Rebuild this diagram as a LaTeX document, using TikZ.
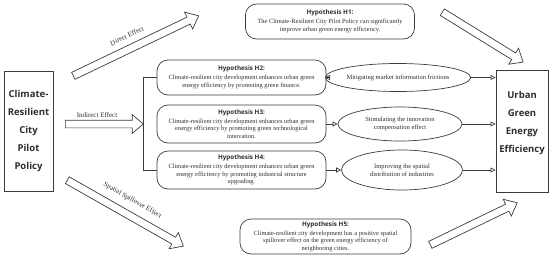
\documentclass[tikz,border=0pt]{standalone}
\usepackage{fontspec}
\setmainfont{Liberation Serif}
\newfontfamily\hfont{Open Sans}
\usetikzlibrary{shapes.geometric,shapes.arrows,arrows.meta}
\definecolor{ln}{RGB}{60,60,60}
\definecolor{tx}{RGB}{45,45,45}
\tikzset{
  hyp/.style={draw=ln, line width=0.7pt, rounded corners=11pt, align=center, inner sep=0pt,
    minimum width=169pt, text=tx, font=\fontsize{6.4}{7.6}\selectfont},
  ell/.style={draw=ln, ellipse, line width=0.7pt, inner sep=0pt, align=center, text=tx,
    font=\fontsize{6.5}{7.6}\selectfont},
  mainbox/.style={draw=ln, line width=0.9pt, inner sep=0pt, align=center, text=tx,
    font=\hfont\bfseries\fontsize{9.5}{18}\selectfont},
  blockarr/.style={single arrow, draw=ln, line width=0.7pt, inner xsep=0pt, inner ysep=3.5pt,
    single arrow head extend=5.5pt, single arrow tip angle=80, anchor=tail},
  conn/.style={draw=ln, line width=0.7pt},
  tipconn/.style={conn, -{Triangle[open,length=5pt,width=5pt]}},
  lbl/.style={text=tx, font=\fontsize{7}{8}\selectfont, inner sep=0pt}
}
\newcommand{\hyptitle}[1]{{\hfont\bfseries\fontsize{6.3}{7}\selectfont #1}}
\begin{document}
\begin{tikzpicture}[x=1pt,y=-1pt]
\useasboundingbox (0,0) rectangle (550,258);

% main boxes
\node[mainbox, minimum width=49pt, minimum height=120pt] (src) at (28.5,131)
  {Climate-\\Resilient\\City\\Pilot\\Policy};
\node[draw=ln, line width=0.9pt, inner sep=0pt, minimum width=52pt, minimum height=122pt] (tgt) at (522,131) {};
\node[mainbox, draw=none] (tgttext) at (522,123) {Urban\\Green\\Energy\\Efficiency};

% hypotheses
\node[hyp, minimum height=35pt] (h1) at (330,21.5)
  {\hyptitle{Hypothesis H1:}\\[1.4pt]
   The Climate-Resilient City Pilot Policy can significantly\\
   improve urban green energy efficiency.};
\node[hyp, minimum height=35pt] (h2) at (241.5,77.5)
  {\hyptitle{Hypothesis H2:}\\[1.4pt]
   Climate-resilient city development enhances urban green\\
   energy efficiency by promoting green finance.};
\node[hyp, minimum height=38pt] (h3) at (241.5,124)
  {\hyptitle{Hypothesis H3:}\\[1.4pt]
   Climate-resilient city development enhances urban green\\
   energy efficiency by promoting green technological\\
   innovation.};
\node[hyp, minimum height=38pt] (h4) at (241.5,170)
  {\hyptitle{Hypothesis H4:}\\[1.4pt]
   Climate-resilient city development enhances urban green\\
   energy efficiency by promoting industrial structure\\
   upgrading.};
\node[hyp, minimum width=171pt, minimum height=35pt] (h5) at (325.5,236.5)
  {\hyptitle{Hypothesis H5:}\\[1.4pt]
   Climate-resilient city development has a positive spatial\\
   spillover effect on the green energy efficiency of\\
   neighboring cities.};

% mechanisms
\node[ell, minimum width=122pt, minimum height=28pt] (e1) at (398,77.5)
  {Mitigating market information frictions};
\node[ell, minimum width=124pt, minimum height=34pt] (e2) at (400,124)
  {Stimulating the innovation\\compensation effect};
\node[ell, minimum width=121pt, minimum height=40pt] (e3) at (402,170)
  {Improving the spatial\\distribution of industries};

% connectors
\draw[tipconn] (h2.east) -- (e1.west);
\draw[tipconn] (h3.east) -- (e2.west);
\draw[tipconn] (h4.east) -- (e3.west);
\draw[tipconn] (e1.east) -- (e1.east -| tgt.west);
\draw[tipconn] (e2.east) -- (e2.east -| tgt.west);
\draw[tipconn] (e3.east) -- (e3.east -| tgt.west);

\coordinate (br) at (143,124);
\draw[conn] (h2.west) -- (h2.west -| br) -- (h4.west -| br) -- (h4.west);

% block arrows
\node[blockarr, minimum height=78pt] (ind) at (65,124) {};
\node[blockarr, rotate=25.6, minimum height=139pt] (dir) at (73,76) {};
\node[blockarr, rotate=-29.6, minimum height=133.5pt] (spa) at (67,180) {};
\node[blockarr, rotate=-31.7, minimum height=95pt] (ur) at (442,12) {};
\node[blockarr, rotate=25.8, minimum height=96.6pt] (lr) at (430,245) {};

% labels
\node[lbl, rotate=25.6] (ldir) at (127,36) {Direct Effect};
\node[lbl] (lind) at (97,115) {Indirect Effect};
\node[lbl, rotate=-29.6] (lspa) at (132.5,200.5) {Spatial Spillover Effect};
\end{tikzpicture}
\end{document}
